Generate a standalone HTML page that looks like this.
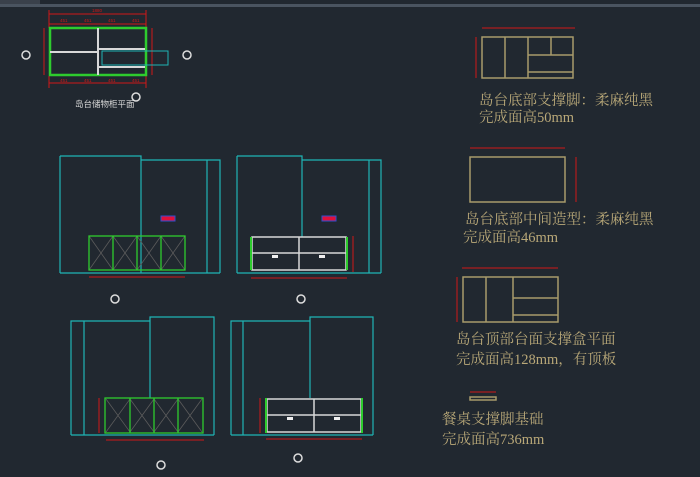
<!DOCTYPE html>
<html><head><meta charset="utf-8"><style>
html,body{margin:0;padding:0;background:#212830;}
svg{display:block}
.t{font-family:"Liberation Serif","Noto Serif CJK SC",serif;fill:#b9a878;font-size:14.5px}
</style></head><body>
<svg width="700" height="477" viewBox="0 0 700 477" xmlns="http://www.w3.org/2000/svg">
<rect width="700" height="477" fill="#212830"/>
<rect x="0" y="4" width="700" height="3" fill="#4a5460"/>
<rect x="0" y="0" width="40" height="4" fill="#3a414b"/>

<!-- PLAN -->
<g fill="none">
<g stroke="#d01818" stroke-width="1">
<line x1="49" y1="14" x2="146" y2="14"/><line x1="49" y1="24" x2="146" y2="24"/>
<line x1="49" y1="83" x2="146" y2="83"/>
<line x1="44" y1="28" x2="44" y2="75"/><line x1="152" y1="28" x2="152" y2="75"/>
<line x1="49" y1="10" x2="49" y2="28"/><line x1="146" y1="10" x2="146" y2="28"/>
<line x1="49" y1="76" x2="49" y2="88"/><line x1="146" y1="76" x2="146" y2="88"/>
</g>
<rect x="50" y="28" width="96" height="47" stroke="#2ecc2e" stroke-width="2.5"/>
<g stroke="#d8d8d8" stroke-width="2">
<line x1="98" y1="28" x2="98" y2="75"/><line x1="50" y1="52" x2="98" y2="52"/>
<line x1="98" y1="49" x2="145" y2="49"/><line x1="98" y1="67" x2="145" y2="67"/>
</g>
<rect x="102" y="51" width="66" height="14" stroke="#1fb5b5" stroke-width="1"/>
</g>
<g font-family="Liberation Sans" font-size="4.5" fill="#d01818">
<text x="92" y="12">1880</text><text x="60" y="22">451</text><text x="84" y="22">451</text><text x="108" y="22">451</text><text x="132" y="22">451</text>
<text x="60" y="82">451</text><text x="84" y="82">451</text><text x="108" y="82">451</text><text x="132" y="82">451</text>
</g>
<g fill="none" stroke="#ddd" stroke-width="1.5">
<circle cx="26" cy="55" r="4"/><circle cx="187" cy="55" r="4"/><circle cx="136" cy="97" r="4"/>
</g>
<text x="75" y="107" font-family="Liberation Sans,Noto Sans CJK SC,sans-serif" font-size="8.5" fill="#d8d8d8">岛台储物柜平面</text>

<!-- ELEV 1 -->
<g fill="none" stroke="#1fb5b5" stroke-width="1.2">
<polyline points="60,156 141,156 141,273"/><line x1="60" y1="156" x2="60" y2="273"/>
<polyline points="141,160 220,160 220,273"/><line x1="207" y1="160" x2="207" y2="273"/>
<line x1="60" y1="273" x2="220" y2="273"/>
</g>
<g fill="none" stroke="#5c5c5c" stroke-width="0.8">
<path d="M89,236 L113,270 M113,236 L89,270 M113,236 L137,270 M137,236 L113,270 M137,236 L161,270 M161,236 L137,270 M161,236 L185,270 M185,236 L161,270"/>
</g>
<g fill="none" stroke="#2ecc2e" stroke-width="1.3">
<rect x="89" y="236" width="96" height="34"/><line x1="113" y1="236" x2="113" y2="270"/><line x1="137" y1="236" x2="137" y2="270"/><line x1="161" y1="236" x2="161" y2="270"/>
</g>
<rect x="161" y="216" width="14" height="5" fill="#e0103a" stroke="#3050d0"/>
<line x1="89" y1="277" x2="185" y2="277" stroke="#d01818"/>
<circle cx="115" cy="299" r="4" fill="none" stroke="#ddd" stroke-width="1.5"/>

<!-- ELEV 2 -->
<g fill="none" stroke="#1fb5b5" stroke-width="1.2">
<polyline points="237,156 302,156 302,237"/><line x1="237" y1="156" x2="237" y2="273"/>
<polyline points="302,160 381,160 381,273"/><line x1="369" y1="160" x2="369" y2="273"/>
<line x1="237" y1="273" x2="381" y2="273"/>
</g>
<g fill="none" stroke="#d8d8d8" stroke-width="1.5">
<rect x="252" y="237" width="94" height="33"/><line x1="299" y1="237" x2="299" y2="270"/><line x1="252" y1="253" x2="346" y2="253"/>
</g>
<line x1="251" y1="237" x2="251" y2="270" stroke="#2ecc2e" stroke-width="2"/><line x1="347" y1="237" x2="347" y2="270" stroke="#2ecc2e" stroke-width="2"/>
<rect x="272" y="255" width="6" height="3" fill="#eee"/><rect x="319" y="255" width="6" height="3" fill="#eee"/>
<rect x="322" y="216" width="14" height="5" fill="#e0103a" stroke="#3050d0"/>
<line x1="251" y1="278" x2="347" y2="278" stroke="#d01818"/><line x1="353" y1="236" x2="353" y2="272" stroke="#d01818"/>
<circle cx="301" cy="299" r="4" fill="none" stroke="#ddd" stroke-width="1.5"/>

<!-- ELEV 3 -->
<g fill="none" stroke="#1fb5b5" stroke-width="1.2">
<polyline points="71,435 71,321 150,321"/><line x1="84" y1="321" x2="84" y2="435"/>
<polyline points="150,398 150,317 214,317 214,435"/>
<line x1="71" y1="435" x2="214" y2="435"/>
</g>
<g fill="none" stroke="#5c5c5c" stroke-width="0.8">
<path d="M106,399 L130,432 M130,399 L106,432 M130,399 L154,432 M154,399 L130,432 M154,399 L178,432 M178,399 L154,432 M178,399 L202,432 M202,399 L178,432"/>
</g>
<g fill="none" stroke="#2ecc2e" stroke-width="1.3">
<rect x="105" y="398" width="98" height="35"/><line x1="130" y1="398" x2="130" y2="433"/><line x1="154" y1="398" x2="154" y2="433"/><line x1="178" y1="398" x2="178" y2="433"/>
</g>
<line x1="106" y1="440" x2="204" y2="440" stroke="#d01818"/><line x1="99" y1="398" x2="99" y2="433" stroke="#d01818"/>
<circle cx="161" cy="465" r="4" fill="none" stroke="#ddd" stroke-width="1.5"/>

<!-- ELEV 4 -->
<g fill="none" stroke="#1fb5b5" stroke-width="1.2">
<polyline points="231,435 231,321 310,321"/><line x1="243" y1="321" x2="243" y2="435"/>
<polyline points="310,398 310,317 373,317 373,435"/>
<line x1="231" y1="435" x2="373" y2="435"/>
</g>
<g fill="none" stroke="#d8d8d8" stroke-width="1.5">
<rect x="267" y="399" width="94" height="33"/><line x1="314" y1="399" x2="314" y2="432"/><line x1="267" y1="415" x2="361" y2="415"/>
</g>
<line x1="266" y1="398" x2="266" y2="433" stroke="#2ecc2e" stroke-width="2"/><line x1="362" y1="398" x2="362" y2="433" stroke="#2ecc2e" stroke-width="2"/>
<rect x="287" y="417" width="6" height="3" fill="#eee"/><rect x="334" y="417" width="6" height="3" fill="#eee"/>
<line x1="266" y1="439" x2="362" y2="439" stroke="#d01818"/><line x1="260" y1="398" x2="260" y2="433" stroke="#d01818"/>
<circle cx="298" cy="458" r="4" fill="none" stroke="#ddd" stroke-width="1.5"/>

<!-- RIGHT COLUMN -->
<g fill="none" stroke="#a89a6a" stroke-width="1.5">
<rect x="482" y="37" width="91" height="41"/><line x1="505" y1="37" x2="505" y2="78"/><line x1="528" y1="37" x2="528" y2="78"/>
<line x1="551" y1="37" x2="551" y2="55"/><line x1="528" y1="55" x2="573" y2="55"/><line x1="528" y1="72" x2="573" y2="72"/>
<rect x="470" y="157" width="95" height="45"/>
<rect x="463" y="277" width="95" height="45"/><line x1="486" y1="277" x2="486" y2="322"/><line x1="513" y1="277" x2="513" y2="322"/>
<line x1="513" y1="298" x2="558" y2="298"/><line x1="513" y1="315" x2="558" y2="315"/>
<rect x="470" y="397" width="26" height="3"/>
</g>
<g stroke="#d01818" stroke-width="1">
<line x1="482" y1="28" x2="575" y2="28"/><line x1="476" y1="37" x2="476" y2="78"/>
<line x1="470" y1="148" x2="565" y2="148"/><line x1="576" y1="157" x2="576" y2="202"/>
<line x1="462" y1="268" x2="558" y2="268"/><line x1="457" y1="277" x2="457" y2="322"/>
<line x1="470" y1="392" x2="496" y2="392"/>
</g>
<text class="t" x="479" y="105">岛台底部支撑脚：柔麻纯黑</text>
<text class="t" x="479" y="122">完成面高50mm</text>
<text class="t" x="465" y="224">岛台底部中间造型：柔麻纯黑</text>
<text class="t" x="463" y="242">完成面高46mm</text>
<text class="t" x="456" y="344">岛台顶部台面支撑盒平面</text>
<text class="t" x="456" y="364">完成面高128mm，有顶板</text>
<text class="t" x="442" y="424">餐桌支撑脚基础</text>
<text class="t" x="442" y="444">完成面高736mm</text>
</svg>
</body></html>
